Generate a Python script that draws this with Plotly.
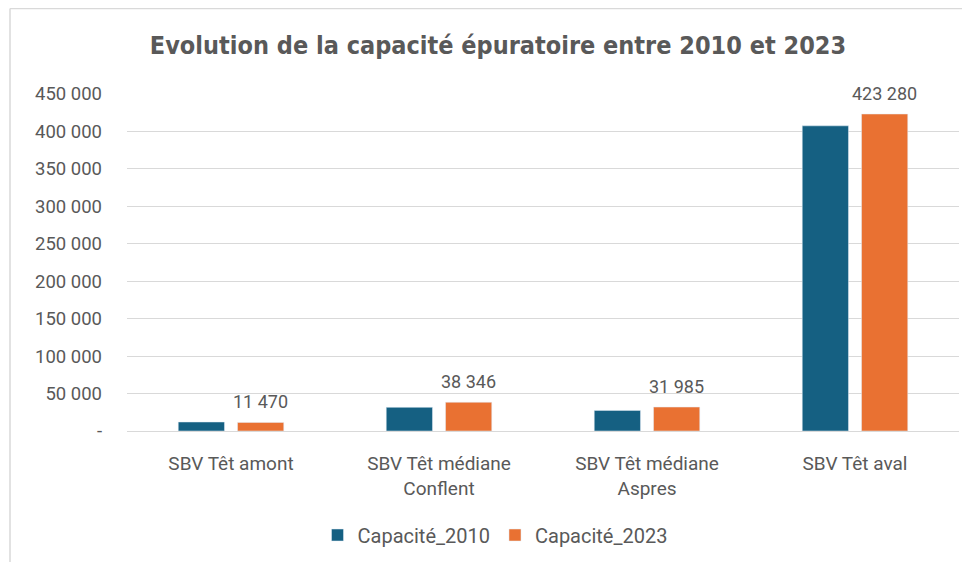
import plotly.graph_objects as go

categories = ["SBV Têt amont", "SBV Têt médiane<br>Conflent", "SBV Têt médiane<br>Aspres", "SBV Têt aval"]
capacite_2010 = [12000, 31600, 27500, 407500]
capacite_2023 = [11470, 38346, 31985, 423280]
series_names = ["Capacité_2010", "Capacité_2023"]
tick_values = [0, 50000, 100000, 150000, 200000, 250000, 300000, 350000, 400000, 450000]
tick_labels = ["-", "50 000", "100 000", "150 000", "200 000", "250 000", "300 000", "350 000", "400 000", "450 000"]
title_text = "Evolution de la capacité épuratoire entre 2010 et 2023"

TITLE_FONT = "DejaVu Sans Condensed, Liberation Sans Narrow, sans-serif"
FONT = "Roboto, Liberation Sans, sans-serif"
GRAY = "#595959"

# page body has an 8px margin: figure drawn at 962x554 so it fills the 970x562 window
W, H = 962, 554
ML, MR, MT, MB = 119, 11, 86, 131
PW, PH = W - ML - MR, H - MT - MB
BARGAP, GROUPGAP = 0.43, 0.22
slot_px = PW / len(categories) * (1 - BARGAP) / 2  # width of one series slot in a group

fig = go.Figure()
fig.add_trace(go.Bar(
    x=categories, y=capacite_2010, name=series_names[0],
    marker=dict(color="#156082"),
))
fig.add_trace(go.Bar(
    x=categories, y=capacite_2023, name=series_names[1],
    marker=dict(color="#E97132"),
))

# data labels for the 2023 series, placed above each 2023 bar
annotations = [
    dict(x=c, y=v, xref="x", yref="y", text=f"{v:,}".replace(",", " "),
         showarrow=False, xshift=slot_px / 2, yshift=8, yanchor="bottom",
         font=dict(family=FONT, size=18, color=GRAY))
    for c, v in zip(categories, capacite_2023)
]

fig.update_layout(
    width=W, height=H,
    separators=", ",
    paper_bgcolor="white", plot_bgcolor="white",
    margin=dict(l=ML, r=MR, t=MT, b=MB, autoexpand=False),
    barmode="group", bargap=BARGAP, bargroupgap=GROUPGAP,
    title=dict(text="<b>" + title_text + "</b>", x=0.5 + 9 / W, xanchor="center",
               y=1 - 37 / H, yanchor="middle",
               font=dict(family=TITLE_FONT, size=25, color=GRAY)),
    font=dict(family=FONT, color=GRAY),
    legend=dict(orientation="h", x=(495 - 8 - ML) / PW, xanchor="center",
                y=-(527 - (MT + PH)) / PH, yanchor="middle",
                font=dict(family=FONT, size=20, color=GRAY), itemwidth=30),
    xaxis=dict(showgrid=False, showline=False, ticks="", ticklabelstandoff=19,
               automargin=False,
               tickfont=dict(family=FONT, size=19, color=GRAY)),
    yaxis=dict(range=[0, 450000], tickvals=tick_values, ticktext=tick_labels,
               showgrid=True, gridcolor="#d9d9d9", gridwidth=1,
               zeroline=True, zerolinecolor="#d9d9d9", zerolinewidth=1,
               showline=False, ticks="", ticklabelstandoff=24, automargin=False,
               tickfont=dict(family=FONT, size=18.5, color=GRAY)),
    annotations=annotations,
    shapes=[
        dict(type="line", xref="paper", yref="paper",
             x0=(2 - ML) / PW, x1=(2 - ML) / PW, y0=-(H - MT - PH) / PH, y1=(MT + PH - 0.5) / PH,
             line=dict(color="#d9d9d9", width=1.5)),
        dict(type="line", xref="paper", yref="paper",
             x0=(2 - ML) / PW, x1=(W - ML) / PW, y0=(MT + PH - 0.5) / PH, y1=(MT + PH - 0.5) / PH,
             line=dict(color="#d9d9d9", width=1.5)),
    ],
)

fig.write_html("out.html")
